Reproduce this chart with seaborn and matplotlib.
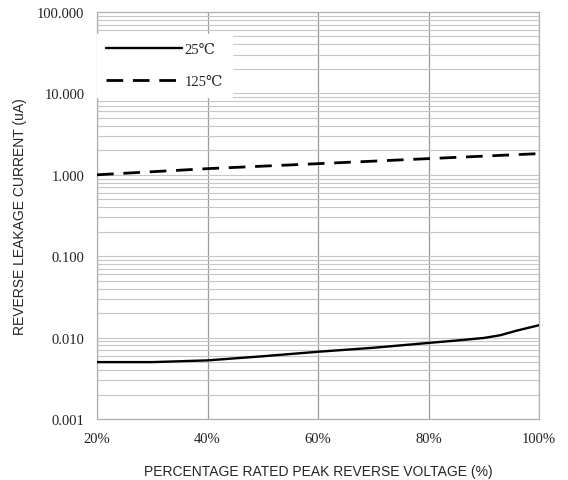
import numpy as np
import pandas as pd
import matplotlib
matplotlib.use('Agg')
import matplotlib.pyplot as plt
import seaborn as sns
from matplotlib.ticker import LogLocator, FixedLocator, NullFormatter
from matplotlib.lines import Line2D

# values
voltage_25 = [20, 30, 40, 50, 60, 70, 80, 85, 90, 93, 96, 100]
current_25 = [0.0050, 0.0050, 0.00525, 0.0059, 0.0067, 0.0075, 0.0086, 0.0092, 0.0099, 0.0107, 0.0122, 0.0142]
voltage_125 = [20, 40, 60, 80, 100]
current_125 = [1.0, 1.19, 1.37, 1.58, 1.82]
series_names = ['25\u2103', '125\u2103']
x_ticks = [20, 40, 60, 80, 100]
x_labels = ['20%', '40%', '60%', '80%', '100%']
y_ticks = [0.001, 0.01, 0.1, 1, 10, 100]
y_labels = ['0.001', '0.010', '0.100', '1.000', '10.000', '100.000']

df = pd.concat([
    pd.DataFrame({'v': voltage_25, 'i': current_25, 'temp': series_names[0]}),
    pd.DataFrame({'v': voltage_125, 'i': current_125, 'temp': series_names[1]}),
])

sns.set_style('white')
plt.rcParams['font.family'] = ['Liberation Serif', 'DejaVu Serif']

fig = plt.figure(figsize=(5.68, 4.81), dpi=100)
ax = fig.add_axes([0.1708, 0.1268, 0.7782, 0.8462])

sns.lineplot(data=df, x='v', y='i', hue='temp', style='temp',
             palette=['black', 'black'],
             dashes={series_names[0]: '', series_names[1]: (6, 3.5)},
             linewidth=2, ax=ax, legend=False, zorder=5)
ax.lines[0].set_linewidth(1.7)

ax.set_yscale('log')
ax.set_xlim(20, 100)
ax.set_ylim(0.001, 100)

ax.yaxis.set_major_locator(FixedLocator(y_ticks))
ax.set_yticklabels(y_labels)
ax.yaxis.set_minor_locator(LogLocator(base=10, subs=np.arange(2, 10)))
ax.yaxis.set_minor_formatter(NullFormatter())
ax.set_xticks(x_ticks)
ax.set_xticklabels(x_labels)
ax.tick_params(axis='both', which='both', length=0, labelsize=10.5, colors='#222222')
ax.tick_params(axis='x', pad=9)
ax.tick_params(axis='y', pad=9)

ax.grid(True, axis='y', which='both', color='#c6c6c6', linewidth=0.8)
ax.grid(True, axis='x', which='major', color='#9a9a9a', linewidth=0.9)
for s in ax.spines.values():
    s.set_color('#b0b0b0')
    s.set_linewidth(0.9)

ax.set_xlabel('PERCENTAGE RATED PEAK REVERSE VOLTAGE (%)',
              family='Liberation Sans', fontsize=10, labelpad=14)
ax.set_ylabel('REVERSE LEAKAGE CURRENT (uA)',
              family='Liberation Sans', fontsize=10, labelpad=7)

handles = [Line2D([], [], color='black', lw=1.7),
           Line2D([], [], color='black', lw=2, dashes=(6, 3.5))]
leg = ax.legend(handles, series_names, loc='upper left', bbox_to_anchor=(0, 0.945),
                borderaxespad=0, handlelength=5.2, handletextpad=0.2,
                labelspacing=1.3, borderpad=0.6, fontsize=10.5,
                frameon=True, fancybox=False, framealpha=1)
leg.get_frame().set_edgecolor('white')
leg.get_frame().set_facecolor('white')
leg.set_zorder(10)

fig.savefig('out.png', dpi=100)
